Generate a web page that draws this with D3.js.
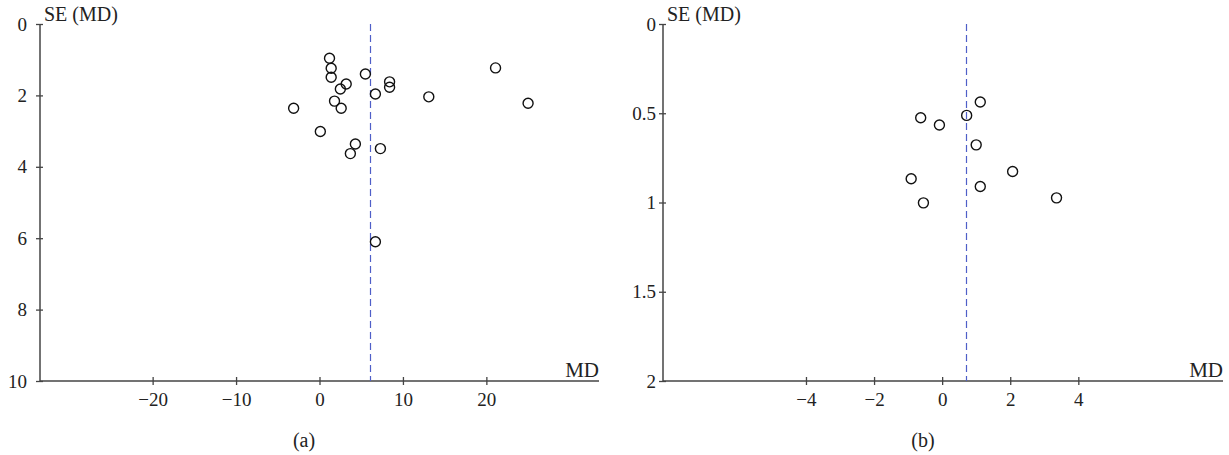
<!DOCTYPE html>
<html>
<head>
<meta charset="utf-8">
<script src="https://cdn.jsdelivr.net/npm/d3@7"></script>
<style>
  html, body { margin: 0; padding: 0; background: #fff; }
  svg { display: block; }
  text { font-family: "Liberation Serif", "DejaVu Serif", serif; fill: #222; }
</style>
</head>
<body>
<svg id="chart" width="1229" height="455"></svg>
<script>
// ---- Data ----
// Panel (a)
const mdA = [1.2, 1.4, 1.4, 3.2, 2.5, 5.5, 8.4, 8.4, 6.7, 1.8, 2.6, -3.1, 0.1, 4.3, 3.7, 7.3, 6.7, 21.1, 13.1, 25.0];
const seA = [0.96, 1.24, 1.49, 1.68, 1.82, 1.40, 1.62, 1.77, 1.96, 2.16, 2.36, 2.36, 3.01, 3.36, 3.63, 3.49, 6.10, 1.23, 2.04, 2.22];
const pooledA = 6.1;
const xTicksA = [-20, -10, 0, 10, 20];
const yTicksA = [0, 2, 4, 6, 8, 10];
const xDomainA = [-33.5, 33.5];
const yDomainA = [0, 10];

// Panel (b)
const mdB = [1.12, -0.63, -0.08, 0.72, 1.0, 2.07, -0.91, 1.12, -0.55, 3.36];
const seB = [0.437, 0.525, 0.566, 0.512, 0.677, 0.826, 0.867, 0.910, 1.002, 0.974];
const pooledB = 0.69;
const xTicksB = [-4, -2, 0, 2, 4];
const yTicksB = [0, 0.5, 1, 1.5, 2];
const xDomainB = [-8.2, 8.25];
const yDomainB = [0, 2];

const yLabel = "SE (MD)";
const xLabel = "MD";
const panelLabels = ["(a)", "(b)"];

const svg = d3.select("#chart");

function drawPanel(cfg) {
  const { left, right, top, bottom, md, se, pooled, xTicks, yTicks, xDomain, yDomain, label, labelX, yLabelGap } = cfg;
  const x = d3.scaleLinear().domain(xDomain).range([left, right]);
  const y = d3.scaleLinear().domain(yDomain).range([top, bottom]);
  const g = svg.append("g");
  const axisColor = "#444";
  const font = '"Liberation Serif", "DejaVu Serif", serif';

  // Y axis
  const yAxis = g.append("g").attr("transform", `translate(${left},0)`)
    .call(d3.axisLeft(y).tickValues(yTicks).tickSize(0).tickPadding(yLabelGap).tickFormat(d3.format("")));
  yAxis.attr("font-size", null).attr("font-family", null);
  yAxis.select(".domain").attr("stroke", axisColor).attr("stroke-width", 1.5).attr("d", `M0,${top}V${bottom}`);
  yAxis.selectAll(".tick").append("line").attr("x1", -4).attr("x2", 3).attr("stroke", axisColor).attr("stroke-width", 1.3);
  yAxis.selectAll(".tick text").style("font-size", "19px").style("font-family", font).attr("fill", "#222");

  // X axis
  const xAxis = g.append("g").attr("transform", `translate(0,${bottom})`)
    .call(d3.axisBottom(x).tickValues(xTicks).tickSize(0).tickPadding(12));
  xAxis.attr("font-size", null).attr("font-family", null);
  xAxis.select(".domain").attr("stroke", axisColor).attr("stroke-width", 1.5).attr("d", `M${left},0H${right}`);
  xAxis.selectAll(".tick").append("line").attr("y1", -4).attr("y2", 4).attr("stroke", axisColor).attr("stroke-width", 1.3);
  xAxis.selectAll(".tick text").style("font-size", "19px").style("font-family", font).attr("fill", "#222");

  // Axis titles
  g.append("text").attr("x", left + 4).attr("y", top - 3).style("font-size", "20px").text(yLabel);
  g.append("text").attr("x", right).attr("y", bottom - 4).attr("text-anchor", "end").style("font-size", "21px").text(xLabel);

  // Pooled estimate line
  const px = Math.round(x(pooled)) + 0.5;
  g.append("line")
    .attr("x1", px).attr("x2", px)
    .attr("y1", y(yDomain[0])).attr("y2", y(yDomain[1]))
    .attr("stroke", "#4f5fc8").attr("stroke-width", 1.2).attr("stroke-dasharray", "7,4");

  // Studies
  g.append("g").selectAll("circle").data(md.map((d, i) => ({ md: d, se: se[i] })))
    .join("circle")
    .attr("cx", d => x(d.md)).attr("cy", d => y(d.se)).attr("r", 5)
    .attr("fill", "none").attr("stroke", "#111").attr("stroke-width", 1.4);

  // Panel label
  g.append("text").attr("x", labelX).attr("y", 447).attr("text-anchor", "middle").style("font-size", "20px").text(label);
}

drawPanel({ left: 40, right: 599, top: 24, bottom: 381, md: mdA, se: seA, pooled: pooledA,
  xTicks: xTicksA, yTicks: yTicksA, xDomain: xDomainA, yDomain: yDomainA, label: panelLabels[0], labelX: 304, yLabelGap: 13 });
drawPanel({ left: 663, right: 1223, top: 24, bottom: 381, md: mdB, se: seB, pooled: pooledB,
  xTicks: xTicksB, yTicks: yTicksB, xDomain: xDomainB, yDomain: yDomainB, label: panelLabels[1], labelX: 923, yLabelGap: 7 });
</script>
</body>
</html>
